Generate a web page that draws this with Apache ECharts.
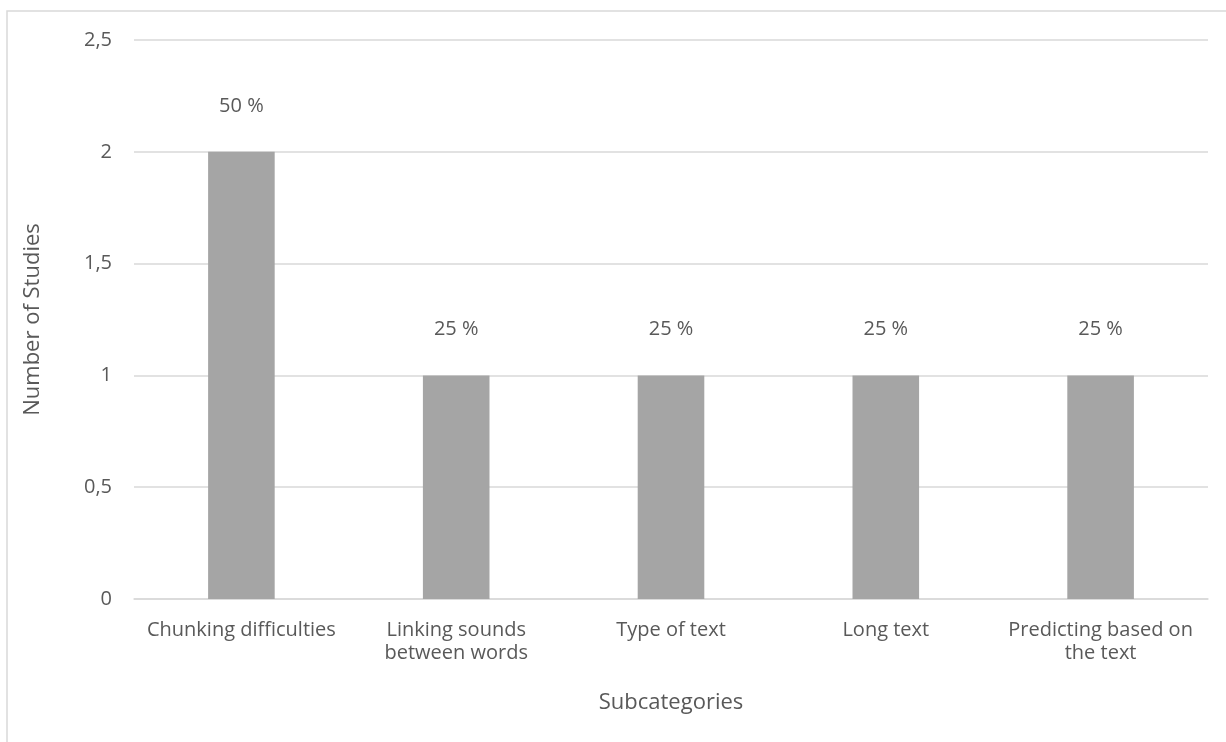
<!DOCTYPE html>
<html>
<head>
<meta charset="utf-8">
<style>
  html, body { margin: 0; padding: 0; background: #ffffff; }
  #chart { width: 1226px; height: 742px; }
</style>
<script src="https://cdn.jsdelivr.net/npm/echarts@6/dist/echarts.min.js"></script>
</head>
<body>
<div id="chart"></div>
<script>
// Subcategories and the number of studies reporting each
const categories = [
  'Chunking difficulties',
  'Linking sounds\nbetween words',
  'Type of text',
  'Long text',
  'Predicting based on\nthe text'
];
const studyCounts = [2, 1, 1, 1, 1];
const shareLabels = ['50 %', '25 %', '25 %', '25 %', '25 %'];
const yTicks = ['0', '0,5', '1', '1,5', '2', '2,5'];

const textColor = '#595959';
const fontFamily = '"Open Sans", "Liberation Sans", sans-serif';

const chart = echarts.init(document.getElementById('chart'), null, { renderer: 'canvas' });

chart.setOption({
  animation: false,
  backgroundColor: '#ffffff',
  textStyle: { fontFamily: fontFamily, color: textColor },
  graphic: [{
    type: 'rect',
    shape: { x: 7, y: 11, width: 1240, height: 760 },
    style: { fill: 'none', stroke: '#d9d9d9', lineWidth: 1.5 },
    silent: true
  }],
  grid: { left: 134, right: 18, top: 40, bottom: 143, containLabel: false },
  xAxis: {
    type: 'category',
    data: categories,
    name: 'Subcategories',
    nameLocation: 'middle',
    nameGap: 93,
    nameTextStyle: { fontSize: 22, color: textColor, fontFamily: fontFamily },
    axisLine: { show: true, lineStyle: { color: '#d9d9d9', width: 1.5 } },
    axisTick: { show: false },
    axisLabel: {
      interval: 0,
      fontSize: 20,
      color: textColor,
      fontFamily: fontFamily,
      lineHeight: 23,
      margin: 20
    }
  },
  yAxis: {
    type: 'value',
    min: 0,
    max: 2.5,
    interval: 0.5,
    name: 'Number of Studies',
    nameLocation: 'middle',
    nameGap: 90,
    nameRotate: 90,
    nameTextStyle: { fontSize: 22, color: textColor, fontFamily: fontFamily },
    axisLine: { show: false },
    axisTick: { show: false },
    splitLine: { show: true, lineStyle: { color: '#d9d9d9', width: 1.5 } },
    axisLabel: {
      fontSize: 20,
      color: textColor,
      fontFamily: fontFamily,
      margin: 22,
      formatter: function (v) { return yTicks[Math.round(v / 0.5)]; }
    }
  },
  series: [{
    type: 'bar',
    data: studyCounts,
    barWidth: '31%',
    itemStyle: { color: '#a5a5a5' },
    label: {
      show: true,
      position: 'top',
      distance: 36,
      fontSize: 20,
      color: textColor,
      fontFamily: fontFamily,
      formatter: function (p) { return shareLabels[p.dataIndex]; }
    }
  }]
});
</script>
</body>
</html>
